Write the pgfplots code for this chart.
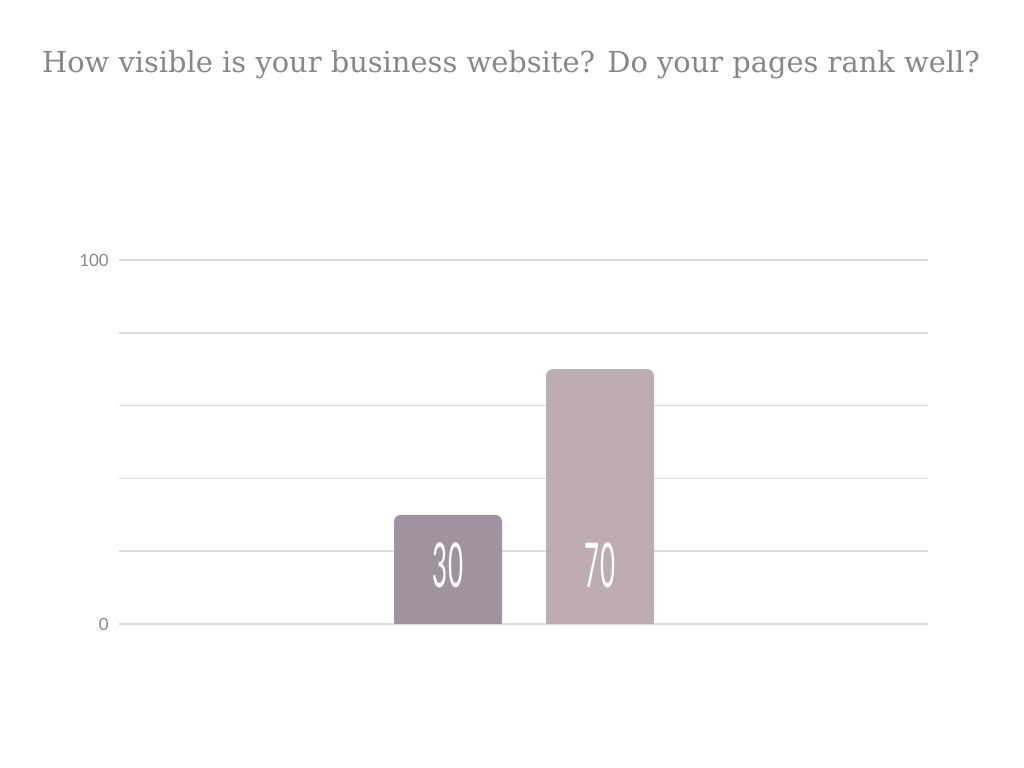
\documentclass[border=0pt]{standalone}
\usepackage{fontspec}
\setmainfont{Lato}
\newfontfamily\titlefont{DejaVu Serif}
\newfontfamily\condfont[FakeStretch=0.42]{Lato}
\usepackage{pgfplots}
\pgfplotsset{compat=1.18}
\definecolor{barA}{HTML}{A0939F}
\definecolor{barB}{HTML}{BDADB0}
\definecolor{gridc}{HTML}{DCDCDC}
\definecolor{txt}{HTML}{888888}
\begin{document}
\begin{tikzpicture}[x=1bp,y=1bp]
\path[use as bounding box,fill=white] (0,0) rectangle (1024,768);
\node[text=txt,font=\titlefont\fontsize{29}{32}\selectfont,anchor=base] at (511,695) {How visible is your business website? Do your pages rank well?};
\begin{axis}[
  at={(119bp,144bp)}, anchor=south west,
  scale only axis, width=809bp, height=364bp,
  xmin=0, xmax=809, ymin=0, ymax=100,
  axis line style={draw=none},
  xtick=\empty,
  ytick={0,20,40,60,80,100},
  yticklabels={0,,,,,100},
  ymajorgrids, grid style={gridc, line width=1.6bp},
  major tick length=0pt, tick style={draw=none},
  yticklabel style={anchor=east, inner sep=0pt, xshift=-10bp, text=txt, font=\fontsize{17}{19}\selectfont},
  /pgf/number format/assume math mode=true,
  clip=false,
  ybar, bar width=108bp, bar shift=0pt,
  visualization depends on={y \as \rawy},
  every node near coord/.append style={anchor=center, text=white, font=\condfont\fontsize{62}{62}\selectfont, yshift={-(\rawy-16.2)*3.64bp}},
]
\addplot[fill=barA, draw=none, rounded corners=7bp, nodes near coords] coordinates {(329,30)};
\addplot[fill=barA, draw=none, forget plot, y filter/.expression={min(y,3)}] coordinates {(329,30)};
\addplot[fill=barB, draw=none, rounded corners=7bp, nodes near coords] coordinates {(481,70)};
\addplot[fill=barB, draw=none, forget plot, y filter/.expression={min(y,3)}] coordinates {(481,70)};
\end{axis}
\end{tikzpicture}
\end{document}
